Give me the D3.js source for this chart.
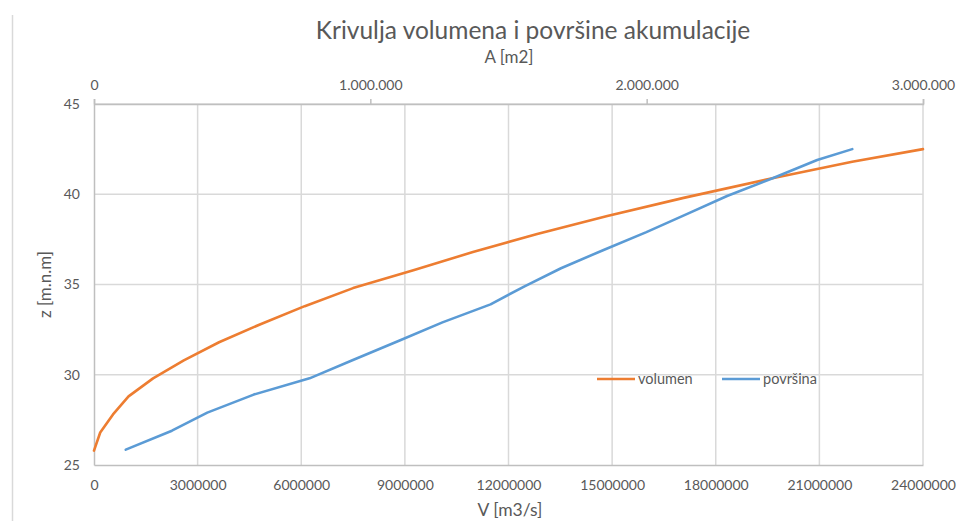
<!DOCTYPE html>
<html>
<head>
<meta charset="utf-8">
<script src="https://cdn.jsdelivr.net/npm/d3@7"></script>
<style>
  body { margin: 0; background: #fff; }
  text { font-family: Lato, "Open Sans", sans-serif; fill: #595959; }
</style>
</head>
<body>
<div id="vis"></div>
<script>
// data
const volZ = [25.8, 26.8, 27.8, 28.8, 29.8, 30.8, 31.8, 32.8, 33.8, 34.8, 35.8, 36.8, 37.8, 38.8, 39.8, 40.8, 41.8, 42.5];
const volV = [0, 180000, 550000, 1000000, 1710000, 2600000, 3620000, 4820000, 6100000, 7500000, 9270000, 10970000, 12830000, 14860000, 17070000, 19430000, 21950000, 24000000];

const areaZ = [25.85, 26.9, 27.9, 28.9, 29.8, 30.8, 31.9, 32.9, 33.9, 34.9, 35.9, 36.9, 37.9, 38.9, 39.9, 40.9, 41.9, 42.5];
const areaA = [115000, 282000, 410000, 578000, 780000, 935000, 1106000, 1261000, 1435000, 1558000, 1690000, 1842000, 1999000, 2145000, 2291000, 2458000, 2617000, 2744000];

const vTicks = [0, 3000000, 6000000, 9000000, 12000000, 15000000, 18000000, 21000000, 24000000];
const aTicks = [0, 1000000, 2000000, 3000000];
const zTicks = [25, 30, 35, 40, 45];

const seriesNames = ['volumen', 'površina'];
const COLORS = ['#ED7D31', '#5B9BD5'];

const WIDTH = 962, HEIGHT = 521;
const PLOT = {left: 94, right: 923, top: 104, bottom: 465};

const svg = d3.select('#vis').append('svg')
  .attr('width', WIDTH)
  .attr('height', HEIGHT);

const X = d3.scaleLinear().domain([0, 24000000]).range([PLOT.left, PLOT.right]);
const XA = d3.scaleLinear().domain([0, 3000000]).range([PLOT.left, PLOT.right]);
const Y = d3.scaleLinear().domain([25, 45]).range([PLOT.bottom, PLOT.top]);

// chart border on the left
svg.append('line')
  .attr('x1', 12.5).attr('x2', 12.5).attr('y1', 15).attr('y2', HEIGHT)
  .attr('stroke', '#d9d9d9').attr('stroke-width', 1.5);

// grid
svg.append('g').selectAll('line').data(vTicks.slice(1)).enter().append('line')
  .attr('x1', d => X(d)).attr('x2', d => X(d))
  .attr('y1', PLOT.top).attr('y2', PLOT.bottom)
  .attr('stroke', '#d9d9d9').attr('stroke-width', 1.5);
svg.append('g').selectAll('line').data(zTicks.slice(1)).enter().append('line')
  .attr('x1', PLOT.left).attr('x2', PLOT.right)
  .attr('y1', d => Y(d)).attr('y2', d => Y(d))
  .attr('stroke', '#d9d9d9').attr('stroke-width', 1.5);

// axes
const fmtDots = d => d3.format(',')(d).replace(/,/g, '.');

const bottomAxis = svg.append('g')
  .attr('transform', 'translate(0,' + PLOT.bottom + ')')
  .call(d3.axisBottom(X).tickValues(vTicks).tickFormat(d3.format('d')).tickSize(0).tickPadding(15));
const topAxis = svg.append('g')
  .attr('transform', 'translate(0,' + PLOT.top + ')')
  .call(d3.axisTop(XA).tickValues(aTicks).tickFormat(fmtDots).tickSize(5).tickPadding(9));
const leftAxis = svg.append('g')
  .attr('transform', 'translate(' + PLOT.left + ',0)')
  .call(d3.axisLeft(Y).tickValues(zTicks).tickSize(0).tickPadding(14));

[bottomAxis, topAxis, leftAxis].forEach(g => {
  g.select('.domain').attr('stroke', '#bfbfbf').attr('stroke-width', 1.5);
  g.selectAll('.tick line').attr('stroke', '#bfbfbf').attr('stroke-width', 1.5);
  g.selectAll('.tick text').attr('font-size', '14px').attr('font-family', 'Lato').attr('fill', '#595959');
});

// lines
const volData = volV.map((v, i) => ({x: v, z: volZ[i]}));
const areaData = areaA.map((a, i) => ({x: a, z: areaZ[i]}));

svg.append('path').datum(volData)
  .attr('fill', 'none').attr('stroke', COLORS[0]).attr('stroke-width', 2.6)
  .attr('stroke-linejoin', 'round').attr('stroke-linecap', 'round')
  .attr('d', d3.line().x(d => X(d.x)).y(d => Y(d.z)));
svg.append('path').datum(areaData)
  .attr('fill', 'none').attr('stroke', COLORS[1]).attr('stroke-width', 2.6)
  .attr('stroke-linejoin', 'round').attr('stroke-linecap', 'round')
  .attr('d', d3.line().x(d => XA(d.x)).y(d => Y(d.z)));

// titles
svg.append('text')
  .attr('x', 533).attr('y', 39)
  .attr('text-anchor', 'middle').attr('font-size', '24.5px')
  .text('Krivulja volumena i površine akumulacije');
svg.append('text')
  .attr('x', 509).attr('y', 63)
  .attr('text-anchor', 'middle').attr('font-size', '17px')
  .text('A [m2]');
svg.append('text')
  .attr('x', 510).attr('y', 516)
  .attr('text-anchor', 'middle').attr('font-size', '17.5px')
  .text('V [m3/s]');
svg.append('text')
  .attr('transform', 'translate(51,' + ((PLOT.top + PLOT.bottom) / 2) + ') rotate(-90)')
  .attr('text-anchor', 'middle').attr('font-size', '17px')
  .text('z [m.n.m]');

// legend
const legendX = [597, 722];
const legend = svg.append('g').selectAll('g').data(seriesNames).enter().append('g')
  .attr('transform', (d, i) => 'translate(' + legendX[i] + ',379)');
legend.append('line')
  .attr('x1', 0).attr('x2', 38).attr('y1', 0).attr('y2', 0)
  .attr('stroke', (d, i) => COLORS[i]).attr('stroke-width', 2.6);
legend.append('text')
  .attr('x', 41).attr('y', 5)
  .attr('font-size', '14.5px')
  .text(d => d);
</script>
</body>
</html>
